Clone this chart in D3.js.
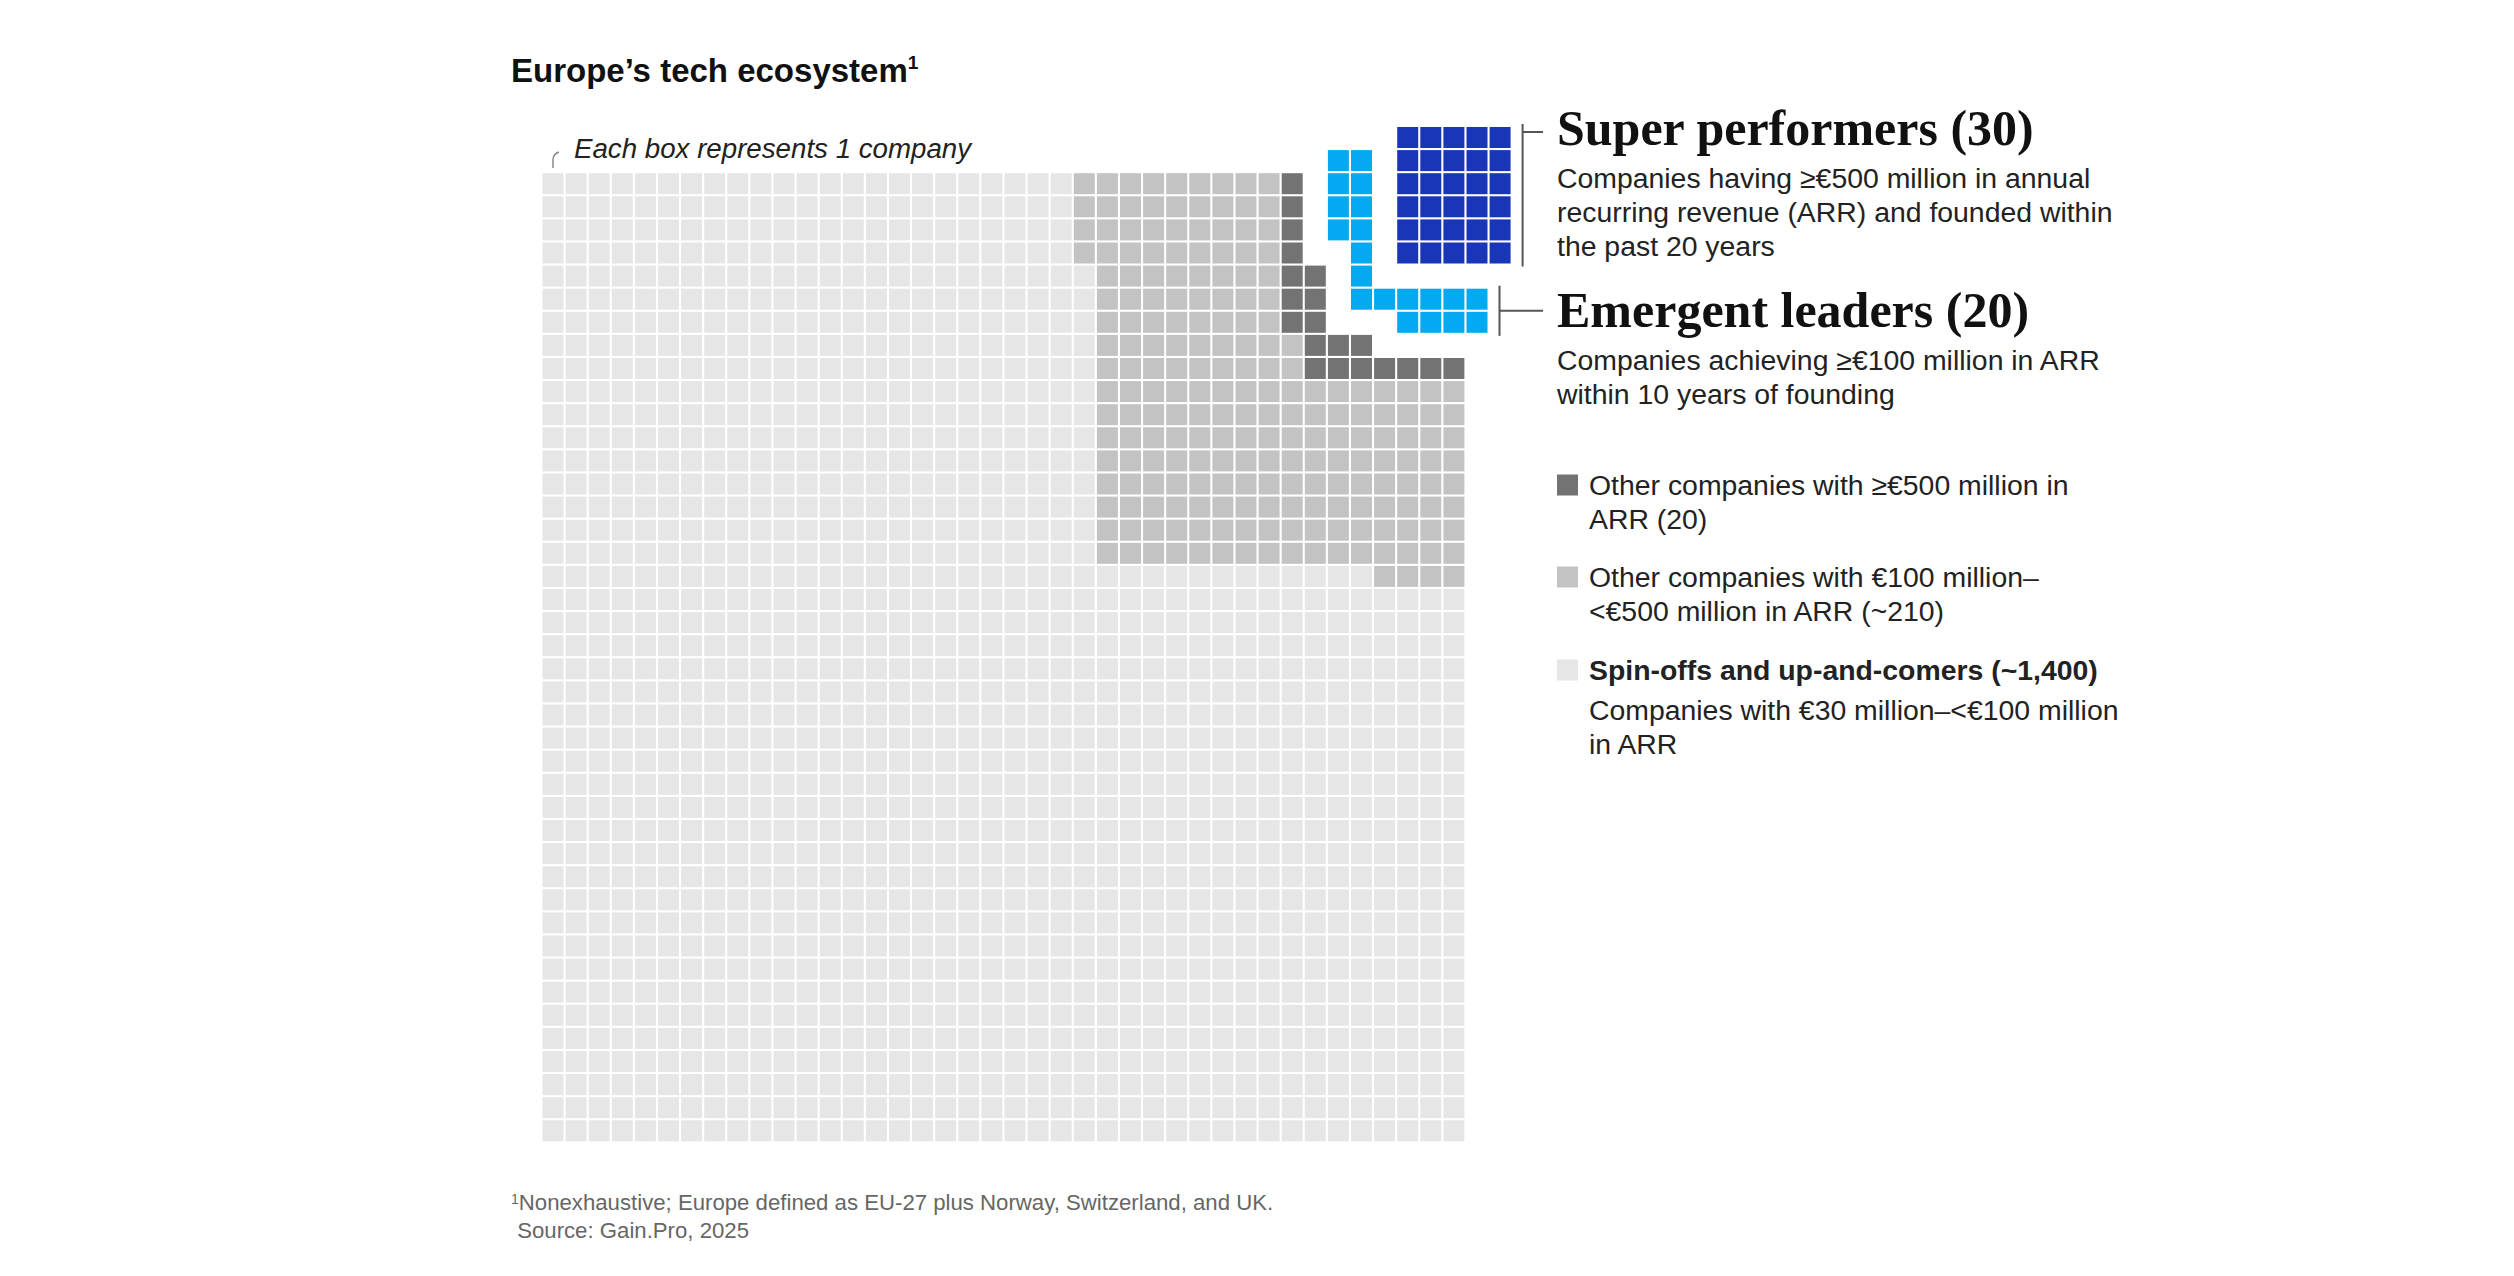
<!DOCTYPE html>
<html>
<head>
<meta charset="utf-8">
<script src="https://cdn.jsdelivr.net/npm/d3@7"></script>
<style>
  body { margin: 0; background: #fff; }
  svg { display: block; }
</style>
</head>
<body>
<div id="chart"></div>
<script>
// categories and company counts
const categories = ["super", "emergent", "other500", "other100", "spinoffs"];
const counts = [30, 20, 20, 210, 1400];
const colors = ["#1836b7", "#05a9f2", "#737373", "#c3c3c3", "#e6e6e6"];

// waffle layout, one run per row: [row, first column, number of boxes]
const superRuns = [[-2, 37, 5], [-1, 37, 5], [0, 37, 5], [1, 37, 5], [2, 37, 5], [3, 37, 5]];
const emergentRuns = [[-1, 34, 2], [0, 34, 2], [1, 34, 2], [2, 34, 2], [3, 35, 1], [4, 35, 1], [5, 35, 6], [6, 37, 4]];
const other500Runs = [[0, 32, 1], [1, 32, 1], [2, 32, 1], [3, 32, 1], [4, 32, 2], [5, 32, 2], [6, 32, 2], [7, 33, 3], [8, 33, 7]];
const other100Runs = [[0, 23, 9], [1, 23, 9], [2, 23, 9], [3, 23, 9], [4, 24, 8], [5, 24, 8], [6, 24, 8], [7, 24, 9], [8, 24, 9],
  [9, 24, 16], [10, 24, 16], [11, 24, 16], [12, 24, 16], [13, 24, 16], [14, 24, 16], [15, 24, 16], [16, 24, 16], [17, 36, 4]];
const spinoffRuns = [[0, 0, 23], [1, 0, 23], [2, 0, 23], [3, 0, 23], [4, 0, 24], [5, 0, 24], [6, 0, 24], [7, 0, 24], [8, 0, 24],
  [9, 0, 24], [10, 0, 24], [11, 0, 24], [12, 0, 24], [13, 0, 24], [14, 0, 24], [15, 0, 24], [16, 0, 24], [17, 0, 36],
  [18, 0, 40], [19, 0, 40], [20, 0, 40], [21, 0, 40], [22, 0, 40], [23, 0, 40], [24, 0, 40], [25, 0, 40], [26, 0, 40],
  [27, 0, 40], [28, 0, 40], [29, 0, 40], [30, 0, 40], [31, 0, 40], [32, 0, 40], [33, 0, 40], [34, 0, 40], [35, 0, 40],
  [36, 0, 40], [37, 0, 40], [38, 0, 40], [39, 0, 40], [40, 0, 40], [41, 0, 40]];
const runs = [superRuns, emergentRuns, other500Runs, other100Runs, spinoffRuns];

// rows covered by the two heading brackets
const bracketRows = [[-2, 3], [5, 6]];

// texts
const title = "Europe’s tech ecosystem";
const note = "Each box represents 1 company";
const headings = ["Super performers (30)", "Emergent leaders (20)"];
const headingText = [
  ["Companies having ≥€500 million in annual", "recurring revenue (ARR) and founded within", "the past 20 years"],
  ["Companies achieving ≥€100 million in ARR", "within 10 years of founding"]
];
const legendLabels = [
  ["Other companies with ≥€500 million in", "ARR (20)"],
  ["Other companies with €100 million–", "<€500 million in ARR (~210)"],
  ["Spin-offs and up-and-comers (~1,400)"]
];
const legendSub = [[], [], ["Companies with €30 million–<€100 million", "in ARR"]];
const footnotes = ["Nonexhaustive; Europe defined as EU-27 plus Norway, Switzerland, and UK.", " Source: Gain.Pro, 2025"];

const width = 2514, height = 1276;
const step = 23.1, gap = 2.1;
const gridCols = 40, gridRows = 42;
const sans = "'Liberation Sans', Arial, sans-serif";
const serif = "'Liberation Serif', 'Times New Roman', serif";
const bodySize = 28.4;

const svg = d3.select("#chart").append("svg")
  .attr("width", width)
  .attr("height", height);

const x = d3.scaleLinear().domain([0, gridCols]).range([542.5, 542.5 + gridCols * step]);
const y = d3.scaleLinear().domain([0, gridRows]).range([173.2, 173.2 + gridRows * step]);
const color = d3.scaleOrdinal().domain(categories).range(colors);

// expand the runs into single boxes
const cells = [];
runs.forEach((r, i) => {
  let n = 0;
  r.forEach(([row, col, len]) => {
    for (let k = 0; k < len; k++) {
      cells.push({ cat: categories[i], row: row, col: col + k });
      n++;
    }
  });
  if (n !== counts[i]) console.warn(categories[i], n, counts[i]);
});

svg.append("g")
  .selectAll("rect")
  .data(cells)
  .join("rect")
  .attr("x", d => x(d.col))
  .attr("y", d => y(d.row))
  .attr("width", step - gap)
  .attr("height", step - gap)
  .attr("fill", d => color(d.cat));

// title
const t = svg.append("text")
  .attr("x", 511)
  .attr("y", 82)
  .attr("font-family", sans)
  .attr("font-weight", "bold")
  .attr("font-size", 33)
  .attr("fill", "#111")
  .text(title);
t.append("tspan")
  .attr("font-size", 19)
  .attr("dy", -13)
  .text("1");

// "each box" note with its little hook
svg.append("path")
  .attr("d", "M553,168 L553,160 Q553,154 559,152")
  .attr("fill", "none")
  .attr("stroke", "#888")
  .attr("stroke-width", 1.5);
svg.append("text")
  .attr("x", 574)
  .attr("y", 158)
  .attr("font-family", sans)
  .attr("font-style", "italic")
  .attr("font-size", 27.7)
  .attr("fill", "#222")
  .text(note);

// heading brackets, placed from the blue clusters
const headX = 1557;
const blocks = [superRuns, emergentRuns];
const headY = [145, 327];
blocks.forEach((r, i) => {
  const top = y(bracketRows[i][0]) - 3;
  const bottom = y(bracketRows[i][1] + 1) - gap + 3;
  const right = x(d3.max(r, d => d[1] + d[2])) - gap + 12;
  const tickY = i === 0 ? top + 8 : (top + bottom) / 2;
  svg.append("line")
    .attr("x1", right).attr("x2", right)
    .attr("y1", top).attr("y2", bottom)
    .attr("stroke", "#555").attr("stroke-width", 2);
  svg.append("line")
    .attr("x1", right).attr("x2", headX - 14)
    .attr("y1", tickY).attr("y2", tickY)
    .attr("stroke", "#555").attr("stroke-width", 2);

  svg.append("text")
    .attr("x", headX)
    .attr("y", headY[i])
    .attr("font-family", serif)
    .attr("font-weight", "bold")
    .attr("font-size", 50)
    .attr("fill", "#111")
    .text(headings[i]);

  svg.append("text")
    .attr("font-family", sans)
    .attr("font-size", bodySize)
    .attr("fill", "#222")
    .selectAll("tspan")
    .data(headingText[i])
    .join("tspan")
    .attr("x", headX)
    .attr("y", (d, j) => headY[i] + 43 + j * 34)
    .text(d => d);
});

// legend for the grey groups
const legendY = [495, 587, 680];
legendLabels.forEach((lines, i) => {
  const cat = categories[i + 2];
  svg.append("rect")
    .attr("x", headX)
    .attr("y", legendY[i] - 20.5)
    .attr("width", step - gap)
    .attr("height", step - gap)
    .attr("fill", color(cat));

  const g = svg.append("text")
    .attr("font-family", sans)
    .attr("font-size", bodySize)
    .attr("fill", "#222");
  g.selectAll("tspan.l")
    .data(lines)
    .join("tspan")
    .attr("class", "l")
    .attr("x", 1589)
    .attr("y", (d, j) => legendY[i] + j * 34)
    .attr("font-weight", i === 2 ? "bold" : null)
    .text(d => d);
  g.selectAll("tspan.s")
    .data(legendSub[i])
    .join("tspan")
    .attr("class", "s")
    .attr("x", 1589)
    .attr("y", (d, j) => legendY[i] + 40 + j * 34)
    .text(d => d);
});

// footnote and source
const f = svg.append("text")
  .attr("font-family", sans)
  .attr("font-size", 22.2)
  .attr("fill", "#666");
f.append("tspan")
  .attr("x", 511)
  .attr("y", 1210)
  .attr("font-size", 14)
  .attr("dy", -6)
  .text("1");
f.append("tspan")
  .attr("dy", 6)
  .text(footnotes[0]);
f.append("tspan")
  .attr("x", 511)
  .attr("y", 1238)
  .style("white-space", "pre")
  .text(footnotes[1]);
</script>
</body>
</html>
